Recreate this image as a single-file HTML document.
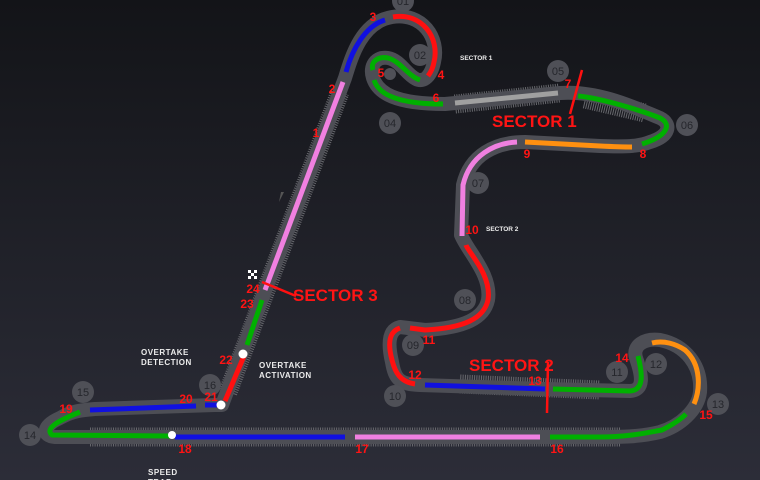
<!DOCTYPE html>
<html><head><meta charset="utf-8"><style>
html,body{margin:0;padding:0;width:760px;height:480px;overflow:hidden;background:#1c1d23}
svg{display:block}
</style></head><body>
<svg width="760" height="480" viewBox="0 0 760 480" xmlns="http://www.w3.org/2000/svg">
<defs>
<linearGradient id="bg" x1="0" y1="0" x2="0" y2="1">
<stop offset="0" stop-color="#131418"/><stop offset="1" stop-color="#2c2d38"/>
</linearGradient>
</defs>
<rect width="760" height="480" fill="url(#bg)"/>
<g fill="none" stroke-linecap="round" stroke-linejoin="round">
<g stroke="#66676c" stroke-width="19" stroke-dasharray="1 1.3" stroke-linecap="butt">
<path d="M90 437 L620 437"/>
<path d="M455 104 L560 93"/>
<path d="M585 99 L645 113"/>
<path d="M460 384 L600 390"/>
<path d="M228 392 L340 92"/>
</g>
<path stroke="#4d4e55" stroke-width="14" d="M222 405 L345 78 C352 55 362 22 392 17 C422 12 440 38 434 62 C431 76 424 83 416 79 C406 74 400 60 388 58 C376 56 369 66 373 78 C378 93 395 104 445 104 L560 93 C600 90 640 110 660 118 C672 124 670 136 650 142 C640 146 630 147 600 146 L525 142 C495 142 470 155 463 185 L461 235 C468 252 492 275 488 300 C484 318 465 328 425 330 L400 327 C388 330 388 345 392 362 C395 380 400 384 420 385 L545 389 L630 391 C645 390 642 375 636 358 C632 345 645 338 660 340 C685 345 702 365 700 392 C698 410 680 426 660 432 C640 437 620 437 600 437 L55 437 C42 436 42 426 60 418 C72 411 82 410 95 409 L215 405 Z"/>
<g stroke-width="5" stroke-linecap="butt">
<path stroke="#a0a0a0" d="M455 103 L558 93"/>
<path stroke="#00b000" d="M443 104 C395 104 378 93 374 80"/>
<path stroke="#00b000" d="M373 70 C370 62 378 56 388 58 C400 61 408 76 420 80"/>
<path stroke="#ff1010" d="M393 17 C422 12 440 38 434 62 C433 68 431 72 428 76"/>
<path stroke="#1010e0" d="M385 20 C365 26 352 50 346 72"/>
<path stroke="#f080e0" d="M343 82 L265 290"/>
<path stroke="#00b000" d="M262 300 L247 345"/>
<path stroke="#ff1010" d="M244 356 L225 401"/>
<path stroke="#1010e0" d="M205 405 L217 405"/>
<path stroke="#1010e0" d="M90 410 L196 406"/>
<path stroke="#00b000" d="M80 412 C60 420 44 428 52 435 L170 436"/>
<path stroke="#1010e0" d="M175 437 L345 437"/>
<path stroke="#f080e0" d="M355 437 L540 437"/>
<path stroke="#00b000" d="M550 437 L600 437 C630 437 650 432 662 430 C672 425 680 420 686 414"/>
<path stroke="#ff9010" d="M694 404 C700 390 702 365 685 350 C676 344 664 340 652 343"/>
<path stroke="#00b000" d="M638 356 C642 372 645 390 630 391 L553 389"/>
<path stroke="#1010e0" d="M545 389 L425 385"/>
<path stroke="#ff1010" d="M415 384 C400 382 395 372 392 360 C388 345 388 332 400 328"/>
<path stroke="#ff1010" d="M410 328 L425 330 C465 328 484 318 488 300 C492 275 468 252 466 245"/>
<path stroke="#f080e0" d="M462 236 L463 185 C470 155 495 143 517 142"/>
<path stroke="#ff9010" d="M525 142 L600 146 C620 147 628 147 632 147"/>
<path stroke="#00b000" d="M642 144 C668 136 672 124 660 118 C640 110 600 98 578 96"/>
</g>
</g>
<g stroke="#ff1010" stroke-width="2.5">
<line x1="582" y1="70" x2="570" y2="114"/>
<line x1="548" y1="362" x2="547" y2="413"/>
<line x1="262" y1="282" x2="296" y2="296"/>
</g>
<g fill="#fff"><circle cx="243" cy="354" r="4.5"/><circle cx="221" cy="405" r="4.5"/><circle cx="172" cy="435" r="4"/></g>
<g fill="#fff"><rect x="248" y="270" width="3" height="3"/><rect x="254" y="270" width="3" height="3"/><rect x="251" y="273" width="3" height="3"/><rect x="248" y="276" width="3" height="3"/><rect x="254" y="276" width="3" height="3"/></g>
<g font-family="Liberation Sans, sans-serif" font-size="11" text-anchor="middle">
<g fill="#4f5057">
<circle cx="403" cy="1" r="11"/><circle cx="420" cy="55" r="11"/><circle cx="390" cy="74" r="6"/><circle cx="390" cy="123" r="11"/><circle cx="558" cy="71" r="11"/><circle cx="687" cy="125" r="11"/><circle cx="478" cy="183" r="11"/><circle cx="465" cy="300" r="11"/><circle cx="413" cy="345" r="11"/><circle cx="395" cy="396" r="11"/><circle cx="617" cy="372" r="11"/><circle cx="656" cy="364" r="11"/><circle cx="718" cy="404" r="11"/><circle cx="30" cy="435" r="11"/><circle cx="83" cy="392" r="11"/><circle cx="210" cy="385" r="11"/>
</g>
<g fill="#25262c">
<text x="403" y="5">01</text><text x="420" y="59">02</text><text x="390" y="127">04</text><text x="558" y="75">05</text><text x="687" y="129">06</text><text x="478" y="187">07</text><text x="465" y="304">08</text><text x="413" y="349">09</text><text x="395" y="400">10</text><text x="617" y="376">11</text><text x="656" y="368">12</text><text x="718" y="408">13</text><text x="30" y="439">14</text><text x="83" y="396">15</text><text x="210" y="389">16</text>
</g>
</g>
<g fill="#ff1414" font-family="Liberation Sans, sans-serif" font-weight="bold" font-size="12" text-anchor="middle">
<text x="316" y="137">1</text><text x="332" y="93">2</text><text x="373" y="21">3</text><text x="441" y="79">4</text><text x="381" y="77">5</text><text x="436" y="102">6</text><text x="568" y="88">7</text><text x="643" y="158">8</text><text x="527" y="158">9</text><text x="472" y="234">10</text><text x="429" y="344">11</text><text x="415" y="379">12</text><text x="535" y="385">13</text><text x="622" y="362">14</text><text x="706" y="419">15</text><text x="557" y="453">16</text><text x="362" y="453">17</text><text x="185" y="453">18</text><text x="66" y="413">19</text><text x="186" y="403">20</text><text x="211" y="401">21</text><text x="226" y="364">22</text><text x="247" y="308">23</text><text x="253" y="293">24</text>
</g>
<g fill="#ff1414" font-family="Liberation Sans, sans-serif" font-weight="bold" font-size="17">
<text x="492" y="127">SECTOR 1</text><text x="469" y="371">SECTOR 2</text><text x="293" y="301">SECTOR 3</text>
</g>
<g fill="#ececec" font-family="Liberation Sans, sans-serif" font-weight="bold">
<text x="460" y="60" font-size="6.5">SECTOR 1</text>
<text x="486" y="231" font-size="6.5">SECTOR 2</text>
<text x="141" y="355" font-size="8" letter-spacing="0.5">OVERTAKE</text>
<text x="141" y="365" font-size="8" letter-spacing="0.5">DETECTION</text>
<text x="259" y="368" font-size="8" letter-spacing="0.5">OVERTAKE</text>
<text x="259" y="378" font-size="8" letter-spacing="0.5">ACTIVATION</text>
<text x="148" y="475" font-size="8" letter-spacing="0.5">SPEED</text>
<text x="148" y="485" font-size="8" letter-spacing="0.5">TRAP</text>
</g>
<polygon points="281,192 284,192 279,202" fill="#555"/>
</svg>
</body></html>
